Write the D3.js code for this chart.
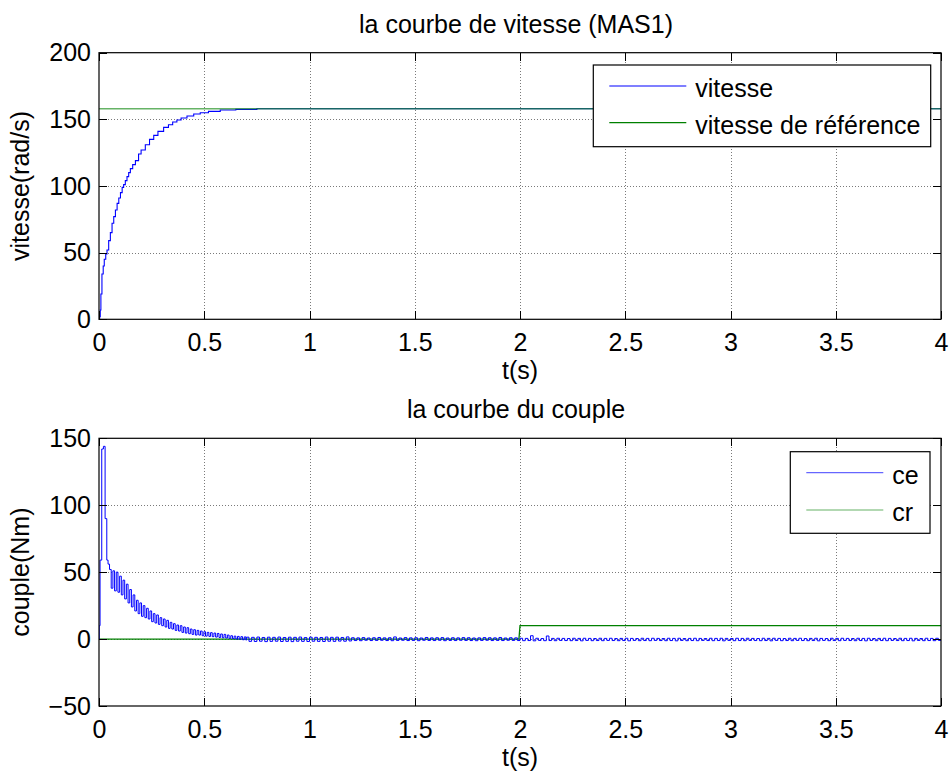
<!DOCTYPE html>
<html>
<head>
<meta charset="utf-8">
<script src="https://cdn.jsdelivr.net/npm/d3@7"></script>
<style>
  body { margin: 0; background: #fff; }
  svg text { font-family: "Liberation Sans", Arial, Helvetica, sans-serif; fill: #000; }
</style>
</head>
<body>
<svg id="fig" width="950" height="773"></svg>
<script>
// ---- data ----
const xTicks = [0, 0.5, 1, 1.5, 2, 2.5, 3, 3.5, 4];
const xTickLabels = ["0", "0.5", "1", "1.5", "2", "2.5", "3", "3.5", "4"];
const speedTicks = [0, 50, 100, 150, 200];
const torqueTicks = [-50, 0, 50, 100, 150];

// rotor speed (rad/s), sample-and-hold staircase
const speedT = [0, 0.003, 0.006, 0.009, 0.014, 0.02, 0.025, 0.032, 0.038, 0.046, 0.054, 0.062, 0.07,
  0.078, 0.086, 0.094, 0.102, 0.11, 0.117, 0.125, 0.133, 0.141, 0.149, 0.16, 0.173, 0.188, 0.2, 0.22,
  0.24, 0.26, 0.28, 0.307, 0.33, 0.35, 0.37, 0.39, 0.418, 0.45, 0.481, 0.52, 0.576, 0.65, 0.75, 4];
const speedV = [0, 2, 7, 19, 34, 40, 45, 49, 52, 59, 65, 72, 77,
  82, 87, 91, 95, 99, 101, 104, 107, 110, 113, 116, 119, 124, 127, 131,
  135, 138, 141, 144, 146, 148, 149.5, 151, 152.5, 154, 155, 156, 157, 157.5, 158, 158];
const speedRefT = [0, 4];
const speedRefV = [158, 158];

// electromagnetic torque ce (Nm): start-up transient
const ceStartT = [0, 0.001, 0.005, 0.013, 0.021, 0.029, 0.037, 0.043];
const ceStartV = [0, 10, 59, 142, 144, 90, 59, 56];
// decaying ripple, sampled every ceBandDt from ceBandT0
const ceBandT0 = 0.05, ceBandDt = 0.008;
const ceBandV = [52, 38, 51, 36, 50, 35, 47, 33, 44, 30, 41, 27, 37, 24, 33, 21, 29, 19, 27, 17,
  25, 16, 23, 15, 21, 13, 19, 12, 18, 11, 16, 10, 15, 9, 14, 8, 12.5, 7.5, 11.5, 6.5,
  10.5, 6, 10, 5, 9, 4.5, 8.5, 4, 7.5, 3.5, 7, 3, 6.5, 3, 6, 2.5, 5.5, 2.2, 5, 2,
  4.8, 1.8, 4.5, 1.5, 4.2, 1.2, 3.8, 1, 3.5, 0.8, 3, 0.5, 2.5, 0.3, 2.2, 0, 2, -0.2, 1.8, -0.5,
  1.6, -0.8];
// steady-state ripple, sampled every ceTailDt from ceTailT0
const ceTailT0 = 0.7, ceTailDt = 0.0125;
const ceTailV = [
  1.4,-1.7,1.3,-1.8,1.5,-1.6,1.2,-1.9, 1.4,-1.7,1.3,-1.6,1.5,-1.8,1.2,-1.7,
  1.4,-1.9,1.3,-1.6,1.5,-1.7,1.1,-1.8, 1.4,-1.6,1.3,-1.7,1.2,-1.8,1.5,-1.6,
  1.3,-1.7,1.4,-1.5,1.2,-1.6,1.6,-1.4,
  1.0,-1.1,0.9,-1.2,1.1,-0.9,0.8,-1.1, 1.0,-1.0,1.2,-0.9,0.9,-1.1,1.0,-1.2,
  1.6,-1.0,0.8,-0.9,1.1,-1.1,0.9,-1.0, 1.0,-1.2,0.8,-0.9,1.2,-1.0,0.9,-1.1,
  1.0,-0.9,1.1,-1.2,0.8,-1.0,1.0,-1.1, 0.9,-0.9,1.1,-1.0,1.0,-1.1,0.8,-1.2,
  0.9,-1.0,1.1,-0.9,1.0,-1.1,0.9,-1.0, 1.2,-1.1,0.8,-0.9,1.0,-1.0,0.9,-1.1,
  0.6,-1.2,0.5,-1.1,2.5,-1.3,0.6,-1.0, 0.4,-1.2,2.3,-1.1,0.5,-1.2,0.6,-1.0,
  0.5,-1.1,0.4,-1.2,0.6,-1.1,0.5,-1.3, 0.6,-1.0,0.5,-1.2,0.4,-1.1,0.6,-1.2,
  0.5,-1.0,0.6,-1.1,0.4,-1.2,0.5,-1.1, 0.6,-1.3,0.5,-1.0,0.4,-1.2,0.6,-1.1,
  0.5,-1.2,0.6,-1.0,0.5,-1.1,0.4,-1.2, 0.6,-1.1,0.5,-1.3,0.6,-1.0,0.4,-1.2,
  0.5,-1.1,0.6,-1.2,0.5,-1.0,0.4,-1.1, 0.6,-1.2,0.5,-1.1,0.6,-1.3,0.5,-1.0,
  0.4,-1.2,0.6,-1.1,0.5,-1.2,0.6,-1.0, 0.5,-1.1,0.4,-1.2,0.6,-1.1,0.5,-1.3,
  0.6,-1.0,0.5,-1.2,0.4,-1.1,0.6,-1.2, 0.5,-1.0,0.6,-1.1,0.4,-1.2,0.5,-1.1,
  0.6,-1.3,0.5,-1.0,0.4,-1.2,0.6,-1.1, 0.5,-1.2,0.6,-1.0,0.5,-1.1,0.4,-1.2,
  0.6,-1.1,0.5,-1.3,0.6,-1.0,0.4,-1.2, 0.5,-1.1,0.6,-1.2,0.5,-1.0,0.4,-1.1,
  0.6,-1.2,0.5,-1.1,0.6,-1.3,0.5,-1.0, 0.4,-1.2,0.6,-1.1,0.5,-1.2,0.6,-1.0];

// load torque cr (Nm): step at t = 2 s
const crT = [0, 1.995, 2.0, 4];
const crV = [0, 0, 10, 10];

// ---- layout ----
const svg = d3.select("#fig");
const FS = 25;
const BLUE = "#0000ff", GREEN = "#008000";
const left = 99, right = 941;
const x = d3.scaleLinear().domain([0, 4]).range([left, right]);

function panel(id, top, bottom, yDomain, yTicks, title, ylabel) {
  const y = d3.scaleLinear().domain(yDomain).range([bottom, top]);
  const g = svg.append("g");

  svg.append("clipPath").attr("id", id).append("rect")
    .attr("x", left).attr("y", top).attr("width", right - left).attr("height", bottom - top);

  // dotted grid
  const grid = g.append("g").attr("stroke", "#7a7a7a").attr("stroke-width", 1)
    .attr("stroke-dasharray", "1,2").attr("shape-rendering", "crispEdges");
  grid.selectAll("line.gx").data(xTicks.slice(1, -1)).join("line")
    .attr("x1", d => Math.round(x(d)) + 0.5).attr("x2", d => Math.round(x(d)) + 0.5)
    .attr("y1", top).attr("y2", bottom);
  grid.selectAll("line.gy").data(yTicks.slice(1, -1)).join("line")
    .attr("y1", d => Math.round(y(d)) + 0.5).attr("y2", d => Math.round(y(d)) + 0.5)
    .attr("x1", left).attr("x2", right);

  const plot = g.append("g").attr("clip-path", `url(#${id})`);

  // inward ticks on all four sides
  const tl = 8;
  const ax = (axis, tx, ty) => {
    const a = g.append("g").attr("transform", `translate(${tx},${ty})`).call(axis);
    a.selectAll("text").remove();
    a.select(".domain").remove();
    a.selectAll("line").attr("stroke", "#000").attr("shape-rendering", "crispEdges");
  };
  ax(d3.axisBottom(x).tickValues(xTicks).tickSize(-tl), 0, bottom);
  ax(d3.axisTop(x).tickValues(xTicks).tickSize(-tl), 0, top);
  ax(d3.axisLeft(y).tickValues(yTicks).tickSize(-tl), left, 0);
  ax(d3.axisRight(y).tickValues(yTicks).tickSize(-tl), right, 0);

  // box
  g.append("rect").attr("x", left).attr("y", top).attr("width", right - left).attr("height", bottom - top)
    .attr("fill", "none").attr("stroke", "#000").attr("stroke-width", 1.2);

  // tick labels
  const xl = g.append("g").attr("transform", `translate(0,${bottom})`)
    .call(d3.axisBottom(x).tickValues(xTicks).tickFormat((d, i) => xTickLabels[i]).tickSize(0).tickPadding(14));
  xl.select(".domain").remove();
  xl.selectAll("text").attr("font-size", FS).attr("font-family", null).attr("fill", "#000");
  const yl = g.append("g").attr("transform", `translate(${left},0)`)
    .call(d3.axisLeft(y).tickValues(yTicks).tickFormat(d3.format("d")).tickSize(0).tickPadding(8));
  yl.select(".domain").remove();
  yl.selectAll("text").attr("font-size", FS).attr("font-family", null).attr("fill", "#000");

  // titles
  g.append("text").attr("x", (left + right) / 2 - 4).attr("y", top - 20)
    .attr("text-anchor", "middle").attr("font-size", FS).text(title);
  g.append("text").attr("x", (left + right) / 2).attr("y", bottom + 60)
    .attr("text-anchor", "middle").attr("font-size", FS).text("t(s)");
  g.append("text").attr("transform", `translate(29,${(top + bottom) / 2}) rotate(-90)`)
    .attr("text-anchor", "middle").attr("font-size", FS).text(ylabel);

  return { y, plot, g };
}

function legend(g, x0, y0, x1, y1, rows) {
  g.append("rect").attr("x", x0).attr("y", y0).attr("width", x1 - x0).attr("height", y1 - y0)
    .attr("fill", "#fff").attr("stroke", "#000").attr("stroke-width", 1.2);
  rows.forEach(r => {
    g.append("line").attr("x1", x0 + 16).attr("x2", x0 + 93).attr("y1", r.y).attr("y2", r.y)
      .attr("stroke", r.color).attr("stroke-width", 1.2).attr("stroke-opacity", r.op || 1);
    g.append("text").attr("x", x0 + 102).attr("y", r.y + 11).attr("font-size", FS).text(r.label);
  });
}

// ---- top panel: speed ----
const P1 = panel("clipTop", 52.7, 319.3, [0, 200], speedTicks, "la courbe de vitesse (MAS1)", "vitesse(rad/s)");
const stepLine = d3.line().x(d => x(d[0])).y(d => P1.y(d[1])).curve(d3.curveStepAfter);
P1.plot.append("path").datum(d3.zip(speedT, speedV)).attr("d", stepLine)
  .attr("fill", "none").attr("stroke", BLUE).attr("stroke-width", 1.1);
P1.plot.append("path").datum(d3.zip(speedRefT, speedRefV))
  .attr("d", d3.line().x(d => x(d[0])).y(d => P1.y(d[1])))
  .attr("fill", "none").attr("stroke", GREEN).attr("stroke-width", 1.5).attr("stroke-opacity", 0.6);
legend(P1.g, 593.3, 65, 930.7, 146.7, [
  { y: 86, color: BLUE, label: "vitesse" },
  { y: 122.7, color: GREEN, label: "vitesse de référence" }
]);

// ---- bottom panel: torque ----
const P2 = panel("clipBot", 438.3, 706, [-50, 150], torqueTicks, "la courbe du couple", "couple(Nm)");
const cePts = d3.zip(ceStartT, ceStartV)
  .concat(ceBandV.map((v, i) => [ceBandT0 + i * ceBandDt, v]))
  .concat(ceTailV.map((v, i) => [ceTailT0 + i * ceTailDt, v]));
cePts.push([4, ceTailV[ceTailV.length - 1]]);
P2.plot.append("path").datum(d3.zip(crT, crV))
  .attr("d", d3.line().x(d => x(d[0])).y(d => P2.y(d[1])))
  .attr("fill", "none").attr("stroke", GREEN).attr("stroke-width", 1.3);
P2.plot.append("path").datum(cePts)
  .attr("d", d3.line().x(d => x(d[0])).y(d => P2.y(d[1])).curve(d3.curveStepAfter))
  .attr("fill", "none").attr("stroke", BLUE).attr("stroke-width", 1);
legend(P2.g, 790.3, 451.7, 930, 533.3, [
  { y: 472.7, color: BLUE, label: "ce", op: 0.6 },
  { y: 510, color: GREEN, label: "cr", op: 0.6 }
]);
</script>
</body>
</html>
